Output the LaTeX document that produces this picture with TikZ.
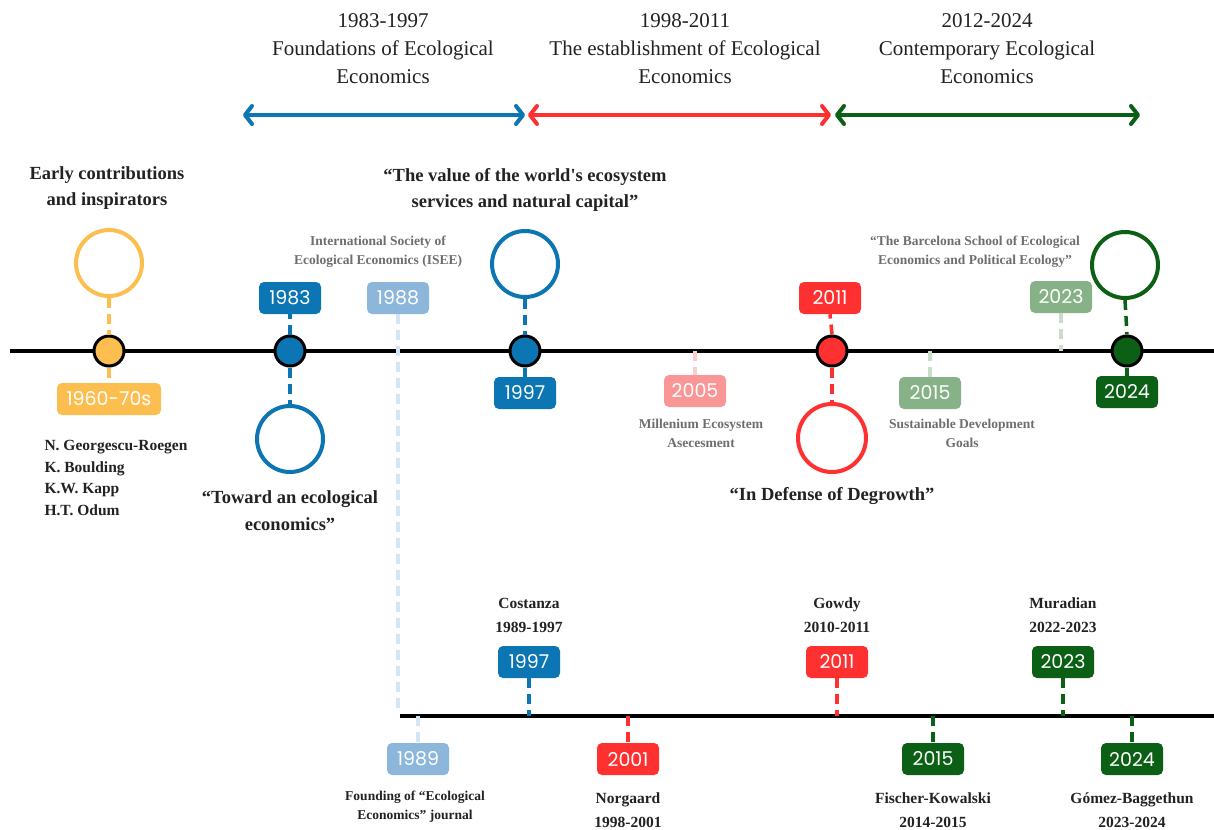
\documentclass[tikz,border=0pt]{standalone}
\usepackage{fontspec}
\setmainfont{Liberation Serif}
\newfontfamily\yearfont{Poppins}
\usetikzlibrary{arrows.meta}
\definecolor{cOr}{RGB}{253,190,80}
\definecolor{cBl}{RGB}{12,117,180}
\definecolor{cBlL}{RGB}{140,183,218}
\definecolor{cBlLL}{RGB}{212,228,243}
\definecolor{cRd}{RGB}{255,48,48}
\definecolor{cRdL}{RGB}{250,150,150}
\definecolor{cRdLL}{RGB}{252,205,205}
\definecolor{cGr}{RGB}{12,96,22}
\definecolor{cGrL}{RGB}{135,178,135}
\definecolor{cGrLL}{RGB}{200,222,200}
\definecolor{cTxt}{RGB}{34,34,34}
\definecolor{cGray}{RGB}{110,110,110}
\tikzset{
  yearbox/.style={rounded corners=5pt, minimum width=62pt, minimum height=32pt, inner sep=0pt, text=white, font=\yearfont\fontsize{19}{19}\selectfont},
  tdot/.style={circle, draw=black, line width=3pt, minimum size=30pt, inner sep=0pt},
  bigcirc/.style={circle, line width=4pt, minimum size=66pt, inner sep=0pt, fill=white},
  conn/.style={line width=3.5pt, dash pattern=on 10pt off 6pt},
  tline/.style={line width=4pt, draw=black},
  period/.style={line width=4pt, {Straight Barb[length=7pt,width=18pt,round]}-{Straight Barb[length=7pt,width=18pt,round]}},
  head/.style={align=center, text=cTxt, font=\fontsize{21}{28}\selectfont},
  btext/.style={align=center, text=cTxt, font=\bfseries\fontsize{18.5}{26}\selectfont},
  gtext/.style={align=center, text=cGray, font=\bfseries\fontsize{13.5}{19}\selectfont},
  ntext/.style={align=center, text=cTxt, font=\bfseries\fontsize{15.5}{24}\selectfont},
}
\begin{document}
\begin{tikzpicture}[x=1pt,y=-1pt]
\useasboundingbox (0,0) rectangle (1214,829);
\fill[white] (0,0) rectangle (1214,829);

% ---- header periods
\node[head] (h1) at (383,49) {1983-1997\\Foundations of Ecological\\Economics};
\node[head] (h2) at (685,49) {1998-2011\\The establishment of Ecological\\Economics};
\node[head] (h3) at (987,49) {2012-2024\\Contemporary Ecological\\Economics};
\coordinate (pa) at (243,115);
\coordinate (pb) at (525,115);
\coordinate (pc) at (528,115);
\coordinate (pd) at (831,115);
\coordinate (pe) at (835,115);
\coordinate (pf) at (1140,115);
\draw[period, cBl] (pa) -- (pb);
\draw[period, cRd] (pc) -- (pd);
\draw[period, cGr] (pe) -- (pf);

% ---- main timeline
\coordinate (l1s) at (10,351);
\coordinate (l1e) at (1214,351);
\draw[tline] (l1s) -- (l1e);

% 1960-70s
\node[bigcirc, draw=cOr] (c60) at (109,263) {};
\node[tdot, fill=cOr] (d60) at (109,351) {};
\node[yearbox, fill=cOr, minimum width=104pt] (y60) at (109,399) {1960-70s};
\draw[conn, cOr] (c60.south) -- (d60.north);
\draw[conn, cOr] (d60.south) -- (y60.north);
\node[btext] (t60) at (107,188) {Early contributions\\and inspirators};
\node[ntext, align=left, anchor=north west, font=\bfseries\fontsize{15.5}{21.5}\selectfont] (names) at (41,437) {N. Georgescu-Roegen\\K. Boulding\\K.W. Kapp\\H.T. Odum};

% 1983
\node[tdot, fill=cBl] (d83) at (290,351) {};
\node[yearbox, fill=cBl] (y83) at (290,298) {1983};
\node[bigcirc, draw=cBl] (c83) at (290,439) {};
\draw[conn, cBl] (d83.north) -- (y83.south);
\draw[conn, cBl] (d83.south) -- (c83.north);
\node[btext, font=\bfseries\fontsize{18.5}{27}\selectfont] (t83) at (290,511) {“Toward an ecological\\economics”};

% 1988
\node[yearbox, fill=cBlL] (y88) at (398,298) {1988};
\coordinate (e88) at (398,714);
\draw[conn, cBlLL] (y88.south) -- (e88);
\node[gtext] (t88) at (378,252) {International Society of\\Ecological Economics (ISEE)};

% 1997
\node[bigcirc, draw=cBl] (c97) at (525,264) {};
\node[tdot, fill=cBl] (d97) at (525,351) {};
\node[yearbox, fill=cBl] (y97) at (525,393) {1997};
\draw[conn, cBl] (c97.south) -- (d97.north);
\draw[conn, cBl] (d97.south) -- (y97.north);
\node[btext] (t97) at (525,190) {“The value of the world\textquotesingle s ecosystem\\services and natural capital”};

% 2005
\coordinate (m05) at (695,351);
\node[yearbox, fill=cRdL] (y05) at (695,391) {2005};
\draw[conn, cRdLL] (m05) -- (y05.north);
\node[gtext] (t05) at (701,433) {Millenium Ecosystem\\Asecesment};

% 2011
\node[tdot, fill=cRd] (d11) at (832,351) {};
\node[yearbox, fill=cRd] (y11) at (830,298) {2011};
\node[bigcirc, draw=cRd, minimum size=68pt] (c11) at (832,438) {};
\draw[conn, cRd] (d11.north) -- (y11.south);
\draw[conn, cRd] (d11.south) -- (c11.north);
\node[btext] (t11) at (832,496) {“In Defense of Degrowth”};

% 2015
\coordinate (m15) at (930,351);
\node[yearbox, fill=cGrL] (y15) at (930,393) {2015};
\draw[conn, cGrLL] (m15) -- (y15.north);
\node[gtext] (t15) at (962,433) {Sustainable Development\\Goals};

% 2023
\coordinate (m23) at (1061,351);
\node[yearbox, fill=cGrL] (y23) at (1061,297) {2023};
\draw[conn, cGrLL] (y23.south) -- (m23);
\node[gtext] (t23) at (975,252) {“The Barcelona School of Ecological\\Economics and Political Ecology”};

% 2024
\node[bigcirc, draw=cGr] (c24) at (1125,265) {};
\node[tdot, fill=cGr] (d24) at (1127,351) {};
\node[yearbox, fill=cGr] (y24) at (1127,392) {2024};
\draw[conn, cGr] (c24.south) -- (d24.north);
\draw[conn, cGr] (d24.south) -- (y24.north);

% ---- editors timeline
\coordinate (l2s) at (400,716);
\coordinate (l2e) at (1214,716);
\draw[tline] (l2s) -- (l2e);

% 1989
\coordinate (k89) at (418,716);
\node[yearbox, fill=cBlL] (b89) at (418,759) {1989};
\draw[conn, cBlLL] (k89) -- (b89.north);
\node[gtext, text=cTxt] (n89) at (415,807) {Founding of “Ecological\\Economics” journal};

% 1997
\coordinate (k97) at (529,716);
\node[yearbox, fill=cBl] (b97) at (529,662) {1997};
\draw[conn, cBl] (b97.south) -- (k97);
\node[ntext] (n97) at (529,615) {Costanza\\1989-1997};

% 2001
\coordinate (k01) at (628,716);
\node[yearbox, fill=cRd] (b01) at (628,759) {2001};
\draw[conn, cRd] (k01) -- (b01.north);
\node[ntext] (n01) at (628,810) {Norgaard\\1998-2001};

% 2011
\coordinate (k11) at (837,716);
\node[yearbox, fill=cRd] (b11) at (837,662) {2011};
\draw[conn, cRd] (b11.south) -- (k11);
\node[ntext] (n11) at (837,615) {Gowdy\\2010-2011};

% 2015
\coordinate (k15) at (933,716);
\node[yearbox, fill=cGr] (b15) at (933,759) {2015};
\draw[conn, cGr] (k15) -- (b15.north);
\node[ntext] (n15) at (933,810) {Fischer-Kowalski\\2014-2015};

% 2023
\coordinate (k23) at (1063,716);
\node[yearbox, fill=cGr] (b23) at (1063,662) {2023};
\draw[conn, cGr] (b23.south) -- (k23);
\node[ntext] (n23) at (1063,615) {Muradian\\2022-2023};

% 2024
\coordinate (k24) at (1132,716);
\node[yearbox, fill=cGr] (b24) at (1132,759) {2024};
\draw[conn, cGr] (k24) -- (b24.north);
\node[ntext] (n24) at (1132,810) {Gómez-Baggethun\\2023-2024};
\end{tikzpicture}
\end{document}
